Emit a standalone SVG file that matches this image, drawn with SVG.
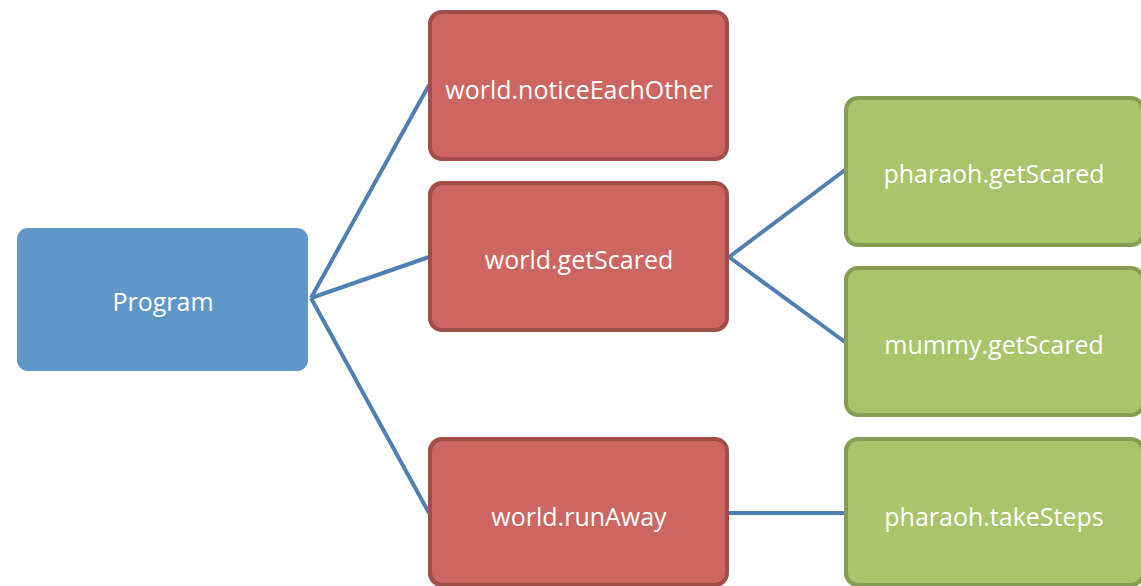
<svg xmlns="http://www.w3.org/2000/svg" width="1141" height="586" viewBox="0 0 1141 586">
<style>
.lbl{font-family:"Open Sans","Noto Sans",sans-serif;font-size:25px;fill:#ffffff;text-anchor:middle}
.red{fill:#cd6560;stroke:#a24d49;stroke-width:4}
.grn{fill:#aac46c;stroke:#879d53;stroke-width:4}
.blue{fill:#6097c9}
.conn line{stroke:#4f80b4;stroke-width:4;stroke-linecap:butt}
</style>
<rect width="1141" height="586" fill="#ffffff"/>
<g id="connectors" class="conn">
<line x1="311" y1="298" x2="429" y2="85"/>
<line x1="311" y1="298" x2="429" y2="257"/>
<line x1="311" y1="298" x2="429" y2="513"/>
<line x1="729" y1="257" x2="845" y2="170"/>
<line x1="729" y1="257" x2="845" y2="342"/>
<line x1="729" y1="513" x2="845" y2="513"/>
</g>
<g id="program"><rect class="blue" x="17" y="228" width="291" height="143" rx="11"/><text class="lbl" x="163" y="311">Program</text></g>
<g id="noticeEachOther"><rect class="red" x="430" y="12" width="297" height="147" rx="12"/><text class="lbl" x="579" y="99">world.noticeEachOther</text></g>
<g id="worldGetScared"><rect class="red" x="430" y="183" width="297" height="147" rx="12"/><text class="lbl" x="579" y="269">world.getScared</text></g>
<g id="runAway"><rect class="red" x="430" y="439" width="297" height="146" rx="12"/><text class="lbl" x="579" y="526">world.runAway</text></g>
<g id="pharaohGetScared"><rect class="grn" x="846" y="98" width="297" height="147" rx="12"/><text class="lbl" x="994" y="183">pharaoh.getScared</text></g>
<g id="mummyGetScared"><rect class="grn" x="846" y="268" width="297" height="147" rx="12"/><text class="lbl" x="994" y="354">mummy.getScared</text></g>
<g id="takeSteps"><rect class="grn" x="846" y="439" width="297" height="146" rx="12"/><text class="lbl" x="994" y="526">pharaoh.takeSteps</text></g>
</svg>
